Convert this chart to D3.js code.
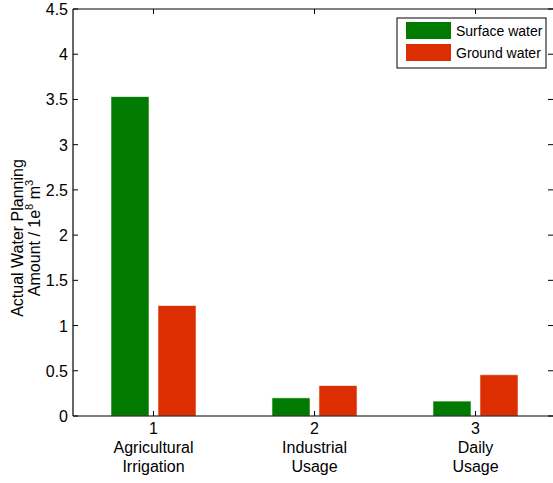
<!DOCTYPE html>
<html>
<head>
<meta charset="utf-8">
<script src="https://cdn.jsdelivr.net/npm/d3@7/dist/d3.min.js"></script>
<style>
  html, body { margin: 0; padding: 0; background: #fff; }
  svg { display: block; font-family: "Liberation Sans", Arial, sans-serif; }
</style>
</head>
<body>
<div id="chart"></div>
<script>
// data
var categories = [1, 2, 3];
var categoryLabels = [["Agricultural", "Irrigation"], ["Industrial", "Usage"], ["Daily", "Usage"]];
var seriesNames = ["Surface water", "Ground water"];
var surfaceWater = [3.53, 0.20, 0.165];
var groundWater = [1.22, 0.335, 0.455];
var yTicks = [0, 0.5, 1, 1.5, 2, 2.5, 3, 3.5, 4, 4.5];
var colors = ["#007a00", "#dc2e00"];

var W = 553, H = 483;
var svg = d3.select('#chart').append('svg').attr('width', W).attr('height', H);

var x = d3.scaleLinear().domain([0.5, 3.5]).range([73, 556]);
var y = d3.scaleLinear().domain([0, 4.5]).range([416, 9]);

var barW = 38, offset = 23.5;
var series = [surfaceWater, groundWater];

var bars = svg.append('g');
series.forEach(function(vals, si){
  bars.selectAll('rect.s' + si).data(vals).enter().append('rect')
    .attr('class', 's' + si)
    .attr('x', function(d, i){ return x(categories[i]) + (si === 0 ? -offset : offset) - barW / 2; })
    .attr('y', function(d){ return y(d); })
    .attr('width', barW)
    .attr('height', function(d){ return y(0) - y(d); })
    .attr('fill', colors[si])
    .attr('stroke', '#e8f0e8').attr('stroke-width', 0.6);
});

// box + ticks (matlab style, inward)
var axisG = svg.append('g').attr('stroke', '#000').attr('fill', 'none');
axisG.append('line').attr('x1', 73).attr('x2', 73).attr('y1', 9).attr('y2', 416).attr('stroke-width', 1.2);
axisG.append('line').attr('x1', 73).attr('x2', 553).attr('y1', 416).attr('y2', 416).attr('stroke-width', 1.2);
axisG.append('line').attr('x1', 73).attr('x2', 553).attr('y1', 9).attr('y2', 9).attr('stroke-width', 1);
yTicks.forEach(function(t){
  axisG.append('line').attr('x1', 73).attr('x2', 78).attr('y1', y(t)).attr('y2', y(t));
  axisG.append('line').attr('x1', 553).attr('x2', 548).attr('y1', y(t)).attr('y2', y(t));
});
categories.forEach(function(c){
  axisG.append('line').attr('x1', x(c)).attr('x2', x(c)).attr('y1', 416).attr('y2', 411);
  axisG.append('line').attr('x1', x(c)).attr('x2', x(c)).attr('y1', 9).attr('y2', 14);
});

svg.append('g').selectAll('text').data(yTicks).enter().append('text')
  .attr('x', 68).attr('y', function(d){ return y(d) + 6; })
  .attr('text-anchor', 'end').attr('font-size', 16)
  .text(function(d){ return d; });

var xl = svg.append('g').attr('font-size', 16).attr('text-anchor', 'middle');
categories.forEach(function(c, i){
  xl.append('text').attr('x', x(c)).attr('y', 434).text(c);
  categoryLabels[i].forEach(function(s, j){
    xl.append('text').attr('x', x(c)).attr('y', 453 + j * 19).text(s);
  });
});

// y label
var yl = svg.append('text').attr('font-size', 16).attr('text-anchor', 'middle')
  .attr('transform', 'translate(0,238) rotate(-90)');
yl.append('tspan').attr('x', 0).attr('y', 23).text('Actual Water Planning');
var l2 = yl.append('tspan').attr('x', 0).attr('y', 40);
l2.append('tspan').text('Amount / 1e');
l2.append('tspan').attr('font-size', 11).attr('dy', -7).text('8');
l2.append('tspan').attr('dy', 7).text(' m');
l2.append('tspan').attr('font-size', 11).attr('dy', -7).text('3');

// legend
var lg = svg.append('g');
lg.append('rect').attr('x', 397).attr('y', 18).attr('width', 149).attr('height', 50)
  .attr('fill', '#fff').attr('stroke', '#000');
seriesNames.forEach(function(n, i){
  lg.append('rect').attr('x', 406).attr('y', 22 + i * 22).attr('width', 45).attr('height', 17)
    .attr('fill', colors[i]);
  lg.append('text').attr('x', 456).attr('y', 36 + i * 22).attr('font-size', 14).text(n);
});
</script>
</body>
</html>
